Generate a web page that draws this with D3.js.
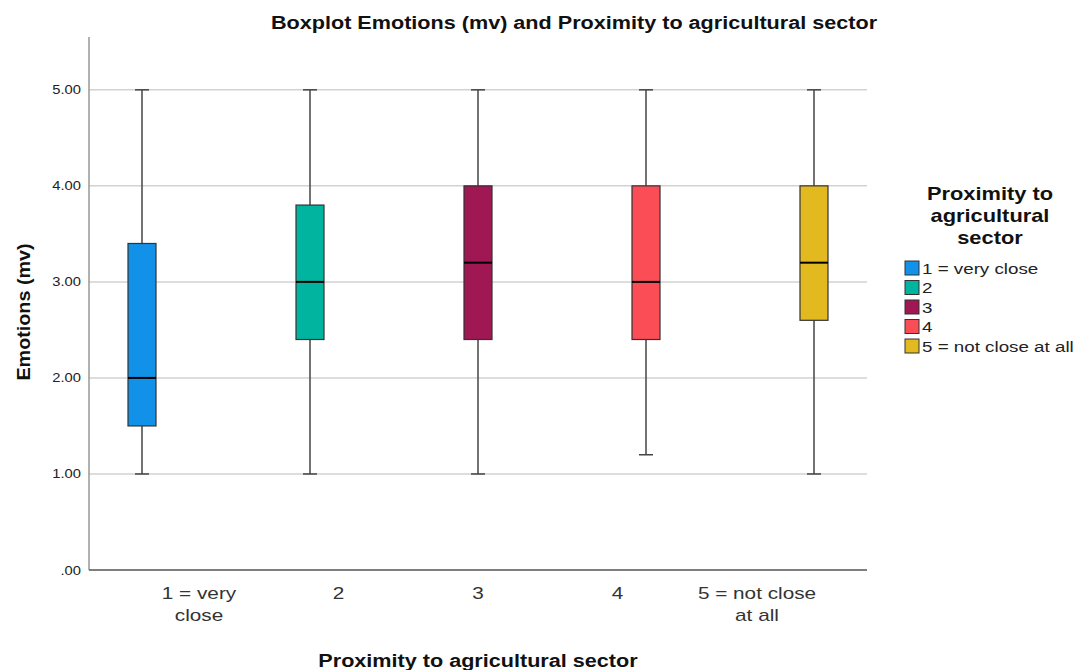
<!DOCTYPE html>
<html><head><meta charset="utf-8">
<script src="https://cdn.jsdelivr.net/npm/d3@7"></script>
<style>body{margin:0;background:#fff}text{font-family:Arial,"Liberation Sans",sans-serif}</style>
</head><body><svg id="c" width="1076" height="670"></svg>
<script>
const categories = ["1 = very close", "2", "3", "4", "5 = not close at all"];
const xLabelLines = [["1 = very", "close"], ["2"], ["3"], ["4"], ["5 = not close", "at all"]];
const whiskerLow = [1.0, 1.0, 1.0, 1.2, 1.0];
const q1 = [1.5, 2.4, 2.4, 2.4, 2.6];
const median = [2.0, 3.0, 3.2, 3.0, 3.2];
const q3 = [3.4, 3.8, 4.0, 4.0, 4.0];
const whiskerHigh = [5.0, 5.0, 5.0, 5.0, 5.0];
const yTicks = [0, 1, 2, 3, 4, 5];
const colors = ["#1192e8", "#01b4a0", "#9f1853", "#fa4d56", "#e2b91e"];

function stretch(sel, f) {
  sel.each(function() {
    const l = this.getComputedTextLength();
    this.setAttribute("textLength", l * f);
    this.setAttribute("lengthAdjust", "spacingAndGlyphs");
  });
}

const svg = d3.select("#c");
const L = 89, R = 867, T = 37, B = 570;
const y = d3.scaleLinear().domain([0, 5.55]).range([B, T]);
const xBox = d3.scaleBand().domain(categories).range([478 - 2.5*168, 478 + 2.5*168]);
const xLab = d3.scaleBand().domain(categories).range([478 - 2.5*139.5, 478 + 2.5*139.5]);
const boxW = 28, capW = 14;

// gridlines
svg.append("g").selectAll("line").data(yTicks.filter(d => d > 0)).join("line")
  .attr("x1", L).attr("x2", R).attr("y1", d => y(d)).attr("y2", d => y(d))
  .attr("stroke", "#d2d2d2").attr("stroke-width", 1.5);

// y axis
const yAxis = svg.append("g").attr("transform", `translate(${L},0)`)
  .call(d3.axisLeft(y).tickValues(yTicks).tickSize(0).tickPadding(8)
    .tickFormat(d => d === 0 ? ".00" : d3.format(".2f")(d)));
yAxis.select(".domain").remove();
yAxis.selectAll("text").attr("font-size", 12.5).attr("fill", "#222").call(stretch, 1.18);
svg.append("line").attr("x1", L).attr("x2", L).attr("y1", T).attr("y2", B).attr("stroke", "#888").attr("stroke-width", 1.3);
svg.append("line").attr("x1", L).attr("x2", R).attr("y1", B).attr("y2", B).attr("stroke", "#555").attr("stroke-width", 1.3);

// boxes
const g = svg.append("g").selectAll("g").data(categories).join("g")
  .attr("transform", d => `translate(${xBox(d) + xBox.bandwidth()/2},0)`);
g.append("line").attr("x1", 0).attr("x2", 0)
  .attr("y1", (d,i) => y(whiskerHigh[i])).attr("y2", (d,i) => y(q3[i]))
  .attr("stroke", "#444").attr("stroke-width", 1.5);
g.append("line").attr("x1", 0).attr("x2", 0)
  .attr("y1", (d,i) => y(q1[i])).attr("y2", (d,i) => y(whiskerLow[i]))
  .attr("stroke", "#444").attr("stroke-width", 1.5);
g.append("line").attr("x1", -capW/2).attr("x2", capW/2)
  .attr("y1", (d,i) => y(whiskerHigh[i])).attr("y2", (d,i) => y(whiskerHigh[i]))
  .attr("stroke", "#444").attr("stroke-width", 1.5);
g.append("line").attr("x1", -capW/2).attr("x2", capW/2)
  .attr("y1", (d,i) => y(whiskerLow[i])).attr("y2", (d,i) => y(whiskerLow[i]))
  .attr("stroke", "#444").attr("stroke-width", 1.5);
g.append("rect").attr("x", -boxW/2).attr("width", boxW)
  .attr("y", (d,i) => y(q3[i])).attr("height", (d,i) => y(q1[i]) - y(q3[i]))
  .attr("fill", (d,i) => colors[i]).attr("stroke", "#333").attr("stroke-width", 1.2);
g.append("line").attr("x1", -boxW/2).attr("x2", boxW/2)
  .attr("y1", (d,i) => y(median[i])).attr("y2", (d,i) => y(median[i]))
  .attr("stroke", "#000").attr("stroke-width", 2);

// x category labels
const labG = svg.append("g");
categories.forEach((c, i) => {
  xLabelLines[i].forEach((t, j) => {
    labG.append("text").attr("x", xLab(c) + xLab.bandwidth()/2).attr("y", 599 + j*22)
      .attr("text-anchor", "middle").attr("font-size", 17).attr("fill", "#333").text(t)
      .call(stretch, 1.22);
  });
});

// titles
svg.append("text").attr("x", 574).attr("y", 29).attr("text-anchor", "middle")
  .attr("font-size", 18).attr("font-weight", "bold").attr("fill", "#111")
  .text("Boxplot Emotions (mv) and Proximity to agricultural sector").call(stretch, 1.2);
svg.append("text").attr("x", 478).attr("y", 667).attr("text-anchor", "middle")
  .attr("font-size", 18).attr("font-weight", "bold").attr("fill", "#111")
  .text("Proximity to agricultural sector").call(stretch, 1.2);
svg.append("text").attr("transform", "translate(30,312) rotate(-90)").attr("text-anchor", "middle")
  .attr("font-size", 19).attr("font-weight", "bold").attr("fill", "#111")
  .text("Emotions (mv)").call(stretch, 1.04);

// legend
const legTitle = ["Proximity to", "agricultural", "sector"];
svg.append("g").selectAll("text").data(legTitle).join("text")
  .attr("x", 990).attr("y", (d,i) => 200 + i*22).attr("text-anchor", "middle")
  .attr("font-size", 18.5).attr("font-weight", "bold").attr("fill", "#111").text(d => d)
  .call(stretch, 1.18);
const lg = svg.append("g").selectAll("g").data(categories).join("g")
  .attr("transform", (d,i) => `translate(905,${261 + i*19.5})`);
lg.append("rect").attr("width", 14).attr("height", 14).attr("fill", (d,i) => colors[i])
  .attr("stroke", "#333").attr("stroke-width", 1);
lg.append("text").attr("x", 17).attr("y", 12.5).attr("font-size", 14).attr("fill", "#222").text(d => d)
  .call(stretch, 1.34);
</script></body></html>
